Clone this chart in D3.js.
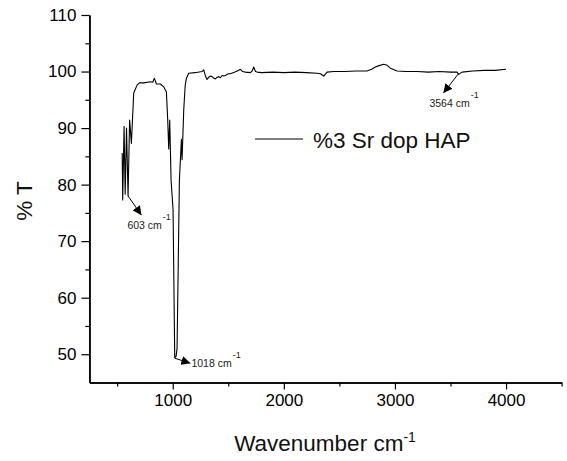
<!DOCTYPE html>
<html>
<head>
<meta charset="utf-8">
<script src="https://cdn.jsdelivr.net/npm/d3@7"></script>
<style>
  body { margin: 0; background: #fff; }
  text { font-family: Arial, "Liberation Sans", sans-serif; }
</style>
</head>
<body>
<div id="chart"></div>
<script>
// spectrum
var wavenumber = [545, 550, 562, 572, 584, 598, 612, 628, 649, 679, 700, 739, 799, 820, 835, 853, 889, 919, 943, 955, 964, 973, 985, 1003, 1018, 1030, 1039, 1060, 1069, 1078, 1084, 1099, 1112, 1123, 1144, 1200, 1264, 1279, 1295, 1309, 1325, 1340, 1354, 1370, 1384, 1400, 1415, 1429, 1445, 1460, 1474, 1500, 1519, 1560, 1590, 1609, 1630, 1654, 1699, 1715, 1729, 1745, 1760, 1800, 1900, 2000, 2100, 2200, 2299, 2330, 2359, 2389, 2450, 2550, 2650, 2749, 2790, 2824, 2851, 2899, 2930, 2959, 3019, 3100, 3200, 3300, 3400, 3500, 3559, 3574, 3604, 3700, 3800, 3900, 4000];
var transmittance = [85.6, 77.3, 90.3, 78.3, 90.0, 78.0, 91.4, 87.3, 96.2, 97.6, 98.0, 98.0, 98.2, 98.1, 98.8, 97.8, 97.8, 97.3, 96.4, 91.4, 86.3, 91.4, 80.8, 75.5, 49.4, 49.6, 51.0, 80.8, 84.4, 88.0, 84.4, 93.2, 97.5, 98.8, 99.7, 99.8, 100.0, 100.3, 99.2, 98.6, 99.0, 99.2, 99.1, 98.8, 98.7, 99.0, 99.1, 98.9, 99.3, 99.2, 99.3, 99.6, 99.6, 99.9, 100.2, 100.4, 100.0, 99.9, 99.8, 100.1, 100.8, 100.0, 99.9, 99.8, 99.9, 99.8, 99.9, 99.8, 99.7, 99.6, 99.2, 99.9, 100.0, 100.0, 100.1, 100.1, 100.4, 100.8, 101.0, 101.3, 101.1, 100.6, 100.1, 100.0, 100.0, 99.9, 100.0, 99.9, 99.9, 99.5, 99.9, 100.1, 100.2, 100.2, 100.4];

var xTicks = [1000, 2000, 3000, 4000];
var xMinor = [500, 1500, 2500, 3500, 4500];
var yTicks = [50, 60, 70, 80, 90, 100, 110];
var yMinor = [55, 65, 75, 85, 95, 105];

// peak labels: arrow from (wn, t) to (toWn, toT)
var peakLabels = ["603", "1018", "3564"];
var peakFrom = [[598, 78.0], [1018, 49.3], [3571, 99.6]];
var peakTo = [[718, 74.6], [1159, 48.4], [3436, 96.2]];

var seriesName = "%3 Sr dop HAP";

var w = 567, h = 461;
var x = d3.scaleLinear().domain([250, 4500]).range([89.4, 561.6]);
var y = d3.scaleLinear().domain([45, 110]).range([382.5, 15]);

var svg = d3.select("#chart").append("svg")
  .attr("width", w)
  .attr("height", h);

svg.append("defs").append("marker")
  .attr("id", "head")
  .attr("viewBox", "0 0 10 10")
  .attr("refX", 10)
  .attr("refY", 5)
  .attr("markerWidth", 9)
  .attr("markerHeight", 9)
  .attr("markerUnits", "userSpaceOnUse")
  .attr("orient", "auto")
  .append("path")
  .attr("d", "M0,0 L10,5 L0,10 Z")
  .attr("fill", "#000");

// axes (minor ticks in their own groups so they don't replace the labelled ones)
var xAxis = d3.axisBottom(x).tickValues(xTicks).tickFormat(d3.format("d")).tickSize(7).tickSizeOuter(0).tickPadding(4);
var xAxisMinor = d3.axisBottom(x).tickValues(xMinor).tickSize(4).tickFormat("").tickSizeOuter(0);
var yAxis = d3.axisLeft(y).tickValues(yTicks).tickFormat(d3.format("d")).tickSize(8).tickSizeOuter(0).tickPadding(5);
var yAxisMinor = d3.axisLeft(y).tickValues(yMinor).tickSize(4).tickFormat("").tickSizeOuter(0);

svg.append("g").attr("transform", "translate(0," + y(45) + ")").call(xAxisMinor);
svg.append("g").attr("transform", "translate(0," + y(45) + ")").call(xAxis);
svg.append("g").attr("transform", "translate(" + x(250) + ",0)").call(yAxisMinor);
svg.append("g").attr("transform", "translate(" + x(250) + ",0)").call(yAxis);

svg.selectAll(".domain").attr("stroke", "#000").attr("stroke-width", 1.5);
svg.selectAll(".tick line").attr("stroke", "#000").attr("stroke-width", 1.2);
svg.selectAll(".tick text")
  .attr("font-size", "17px")
  .attr("fill", "#000")
  .attr("font-family", "Arial, 'Liberation Sans', sans-serif");

// spectrum
var line = d3.line()
  .x(function(d, i) { return x(wavenumber[i]); })
  .y(function(d) { return y(d); });

svg.append("path")
  .datum(transmittance)
  .attr("d", line)
  .attr("fill", "none")
  .attr("stroke", "#000")
  .attr("stroke-width", 1.1)
  .attr("stroke-linejoin", "round");

// peak arrows and labels
for (var k = 0; k < peakLabels.length; k++) {
  var x1 = x(peakFrom[k][0]), y1 = y(peakFrom[k][1]);
  var x2 = x(peakTo[k][0]), y2 = y(peakTo[k][1]);
  svg.append("line")
    .attr("x1", x1).attr("y1", y1)
    .attr("x2", x2).attr("y2", y2)
    .attr("stroke", "#000")
    .attr("stroke-width", 1)
    .attr("marker-end", "url(#head)");

  var tx, ty;
  if (k == 1) { tx = x2 + 1; ty = y2 + 4; }
  else { tx = x2 - 14; ty = y2 + 14; }
  var t = svg.append("text")
    .attr("x", tx).attr("y", ty)
    .attr("font-size", "10.5px")
    .attr("fill", "#222");
  t.append("tspan").text(peakLabels[k] + " cm");
  t.append("tspan").attr("dy", -9).attr("dx", 1).attr("font-size", "9px").text("-1");
}

// legend
svg.append("line")
  .attr("x1", 255).attr("x2", 303)
  .attr("y1", 139).attr("y2", 139)
  .attr("stroke", "#000")
  .attr("stroke-width", 1.1);
svg.append("text")
  .attr("x", 313).attr("y", 148)
  .attr("font-size", "22.5px")
  .attr("fill", "#111")
  .text(seriesName);

// axis titles
var xt = svg.append("text")
  .attr("x", 325).attr("y", 451)
  .attr("text-anchor", "middle")
  .attr("font-size", "22.5px")
  .attr("fill", "#111");
xt.append("tspan").text("Wavenumber cm");
xt.append("tspan").attr("dy", -9).attr("font-size", "14px").text("-1");

svg.append("text")
  .attr("transform", "translate(32,201) rotate(-90)")
  .attr("text-anchor", "middle")
  .attr("font-size", "22.5px")
  .attr("fill", "#111")
  .text("% T");
</script>
</body>
</html>
